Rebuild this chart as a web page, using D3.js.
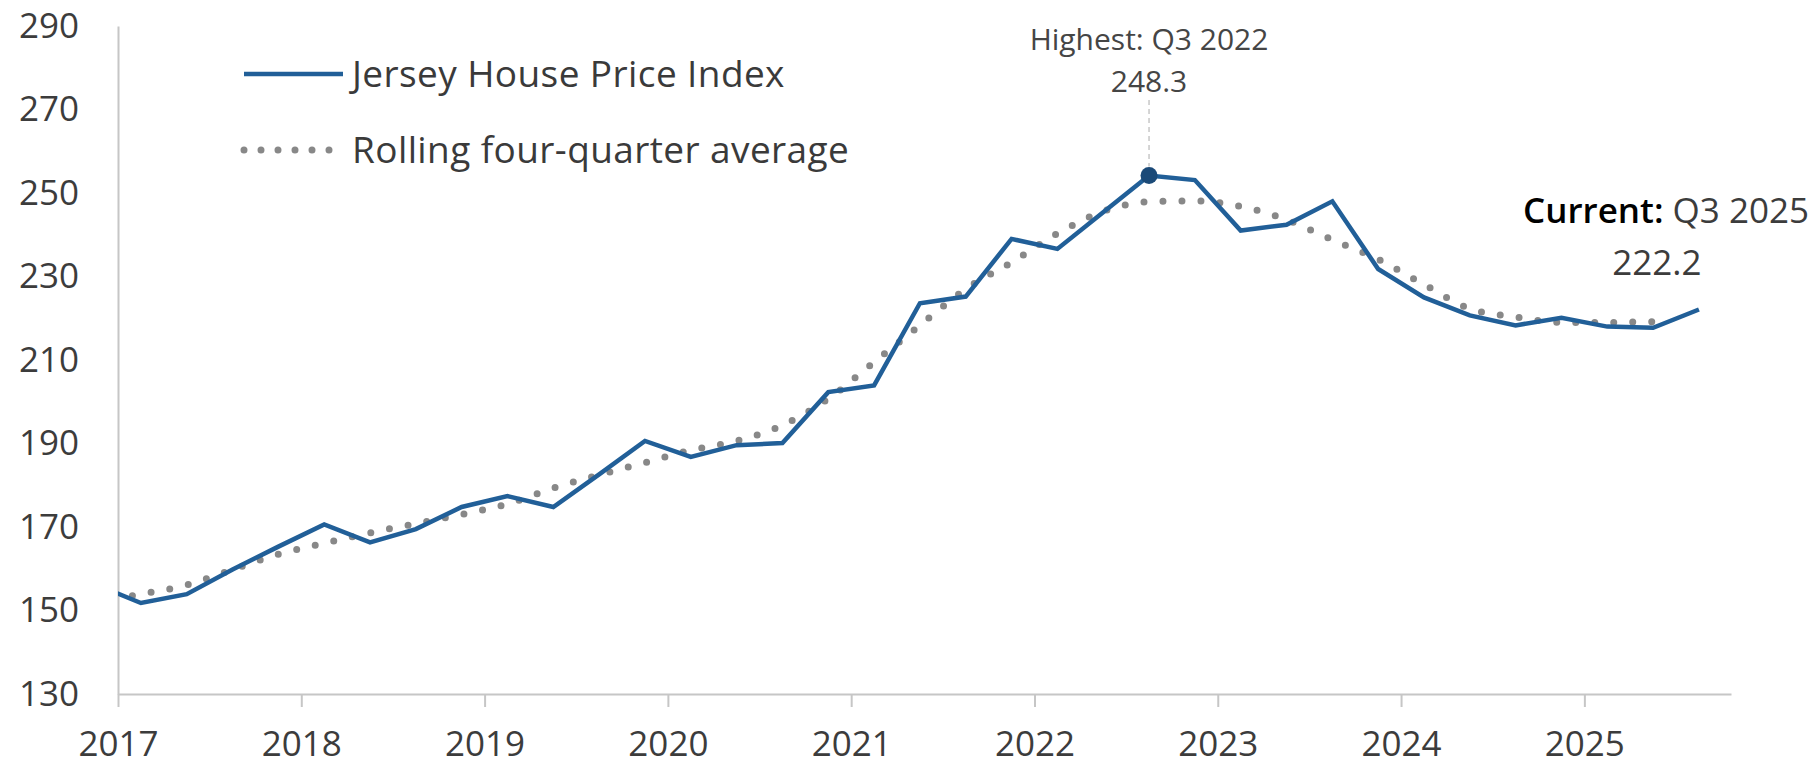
<!DOCTYPE html>
<html>
<head>
<meta charset="utf-8">
<script src="https://cdn.jsdelivr.net/npm/d3@7"></script>
<style>
  body { margin: 0; background: #fff; }
  svg text { font-family: "Open Sans", Roboto, "Liberation Sans", sans-serif; }
  .axis text { font-size: 35px; fill: #3c3c3c; }
  .axis path, .axis line { stroke: #c6c6c6; stroke-width: 2; }
</style>
</head>
<body>
<div id="chart"></div>
<script>
// quarterly data, Q4 2016 is only there so the line runs into the y axis (clipped)
var quarters = ["Q4 2016",
  "Q1 2017", "Q2 2017", "Q3 2017", "Q4 2017",
  "Q1 2018", "Q2 2018", "Q3 2018", "Q4 2018",
  "Q1 2019", "Q2 2019", "Q3 2019", "Q4 2019",
  "Q1 2020", "Q2 2020", "Q3 2020", "Q4 2020",
  "Q1 2021", "Q2 2021", "Q3 2021", "Q4 2021",
  "Q1 2022", "Q2 2022", "Q3 2022", "Q4 2022",
  "Q1 2023", "Q2 2023", "Q3 2023", "Q4 2023",
  "Q1 2024", "Q2 2024", "Q3 2024", "Q4 2024",
  "Q1 2025", "Q2 2025", "Q3 2025"];

var hpi = [156.3,
  151.8, 153.9, 159.8, 165.3,
  170.6, 166.3, 169.5, 174.8,
  177.4, 174.8, 182.6, 190.6,
  186.8, 189.6, 190.1, 202.3,
  203.9, 223.6, 225.2, 239.0,
  236.6, 245.4, 254.2, 253.1,
  241.0, 242.4, 248.0, 231.8,
  225.0, 220.7, 218.3, 220.1,
  218.0, 217.7, 222.1];

// rolling four-quarter average (stops one quarter earlier)
var rolling = [151.8,
  153.9, 156.1, 159.8, 163.5,
  166.1, 168.6, 170.8, 173.0,
  175.5, 179.3, 182.5, 185.4,
  188.4, 190.6, 194.4, 200.7,
  209.5, 218.3, 227.0, 233.4,
  240.3, 245.6, 247.9, 248.1,
  246.8, 243.6, 238.8, 234.1,
  228.1, 222.3, 220.3, 219.0,
  219.0, 219.2];

var yearTicks = [2017, 2018, 2019, 2020, 2021, 2022, 2023, 2024, 2025];
var valueTicks = [130, 150, 170, 190, 210, 230, 250, 270, 290];

var seriesNames = ["Jersey House Price Index", "Rolling four-quarter average"];
var highest = {quarter: "Q3 2022", label: "248.3"};
var current = {quarter: "Q3 2025", label: "222.2"};

var width = 1815,
    height = 766;
var margin = {top: 26, right: 84, bottom: 72, left: 118};

var blue = "#215f98",
    grey = "#888888";

// quarter label -> position in years (points sit mid-quarter)
function quarterPos(q) {
  var parts = q.split(" ");
  return +parts[1] + (+parts[0].slice(1) - 0.5) / 4;
}

var hpiData = quarters.map(function(q, i) { return {q: q, t: quarterPos(q), v: hpi[i]}; });
var avgData = rolling.map(function(v, i) { return {q: quarters[i], t: quarterPos(quarters[i]), v: v}; });

var svg = d3.select("#chart").append("svg")
  .attr("width", width)
  .attr("height", height);

var xScale = d3.scaleLinear()
  .domain([2017, 2025.8])
  .range([margin.left, width - margin.right]);

var yScale = d3.scaleLinear()
  .domain([130, 290])
  .range([height - margin.bottom, margin.top]);

svg.append("clipPath")
  .attr("id", "plot-clip")
  .append("rect")
  .attr("x", margin.left)
  .attr("y", 0)
  .attr("width", width - margin.left)
  .attr("height", height);

//axes
var xAxisCall = d3.axisBottom(xScale)
  .tickValues(yearTicks)
  .tickFormat(d3.format("d"))
  .tickSizeInner(13)
  .tickSizeOuter(0)
  .tickPadding(24);

var yAxisCall = d3.axisLeft(yScale)
  .tickValues(valueTicks)
  .tickSizeInner(0)
  .tickSizeOuter(0)
  .tickPadding(39);

svg.append("g")
  .attr("class", "axis y-axis")
  .attr("transform", "translate(" + margin.left + ",0)")
  .call(yAxisCall);

svg.append("g")
  .attr("class", "axis x-axis")
  .attr("transform", "translate(0," + (height - margin.bottom) + ")")
  .call(xAxisCall);

//lines
var line = d3.line()
  .x(function(d) { return xScale(d.t); })
  .y(function(d) { return yScale(d.v); });

var smoothLine = d3.line()
  .curve(d3.curveMonotoneX)
  .x(function(d) { return xScale(d.t); })
  .y(function(d) { return yScale(d.v); });

var plot = svg.append("g").attr("clip-path", "url(#plot-clip)");

plot.append("path")
  .datum(avgData)
  .attr("fill", "none")
  .attr("stroke", grey)
  .attr("stroke-width", 7)
  .attr("stroke-linecap", "round")
  .attr("stroke-dasharray", "0,19")
  .attr("d", smoothLine);

plot.append("path")
  .datum(hpiData)
  .attr("fill", "none")
  .attr("stroke", blue)
  .attr("stroke-width", 4.5)
  .attr("stroke-linejoin", "miter")
  .attr("d", line);

// highest point annotation
var peak = hpiData.filter(function(d) { return d.q === highest.quarter; })[0];
var px = xScale(peak.t), py = yScale(peak.v);

svg.append("line")
  .attr("x1", px).attr("x2", px)
  .attr("y1", 100).attr("y2", py - 9)
  .attr("stroke", "#c8c8c8")
  .attr("stroke-width", 1.5)
  .attr("stroke-dasharray", "5,4");

svg.append("circle")
  .attr("cx", px)
  .attr("cy", py)
  .attr("r", 8.5)
  .attr("fill", "#1b4a78");

svg.append("text")
  .attr("x", px).attr("y", 50)
  .attr("text-anchor", "middle")
  .style("font-size", "30px").style("fill", "#454545")
  .text("Highest: " + highest.quarter);

svg.append("text")
  .attr("x", px).attr("y", 92)
  .attr("text-anchor", "middle")
  .style("font-size", "30px").style("fill", "#454545")
  .text(highest.label);

// current value annotation
var last = hpiData[hpiData.length - 1];
var lx = xScale(last.t), ly = yScale(last.v);

var cur = svg.append("text")
  .attr("x", width - 6).attr("y", ly - 86)
  .attr("text-anchor", "end")
  .style("font-size", "35px");
cur.append("tspan")
  .style("fill", "#000").style("font-weight", 600)
  .text("Current: ");
cur.append("tspan")
  .style("fill", "#3c3c3c")
  .text(current.quarter);

svg.append("text")
  .attr("x", lx - 42).attr("y", ly - 34)
  .attr("text-anchor", "middle")
  .style("font-size", "35px").style("fill", "#3c3c3c")
  .text(current.label);

//legend
var legend = svg.append("g").attr("class", "legend");

legend.append("line")
  .attr("x1", 244).attr("x2", 343)
  .attr("y1", 74).attr("y2", 74)
  .attr("stroke", blue)
  .attr("stroke-width", 4.5);

legend.append("line")
  .attr("x1", 244).attr("x2", 330)
  .attr("y1", 150).attr("y2", 150)
  .attr("stroke", grey)
  .attr("stroke-width", 7)
  .attr("stroke-linecap", "round")
  .attr("stroke-dasharray", "0,17");

legend.selectAll("text")
  .data(seriesNames)
  .enter().append("text")
  .attr("x", 352)
  .attr("y", function(d, i) { return 74 + i * 76; })
  .attr("dy", "0.35em")
  .style("font-size", "37px").style("letter-spacing", "0.4px").style("fill", "#3a3a3a")
  .text(function(d) { return d; });
</script>
</body>
</html>
